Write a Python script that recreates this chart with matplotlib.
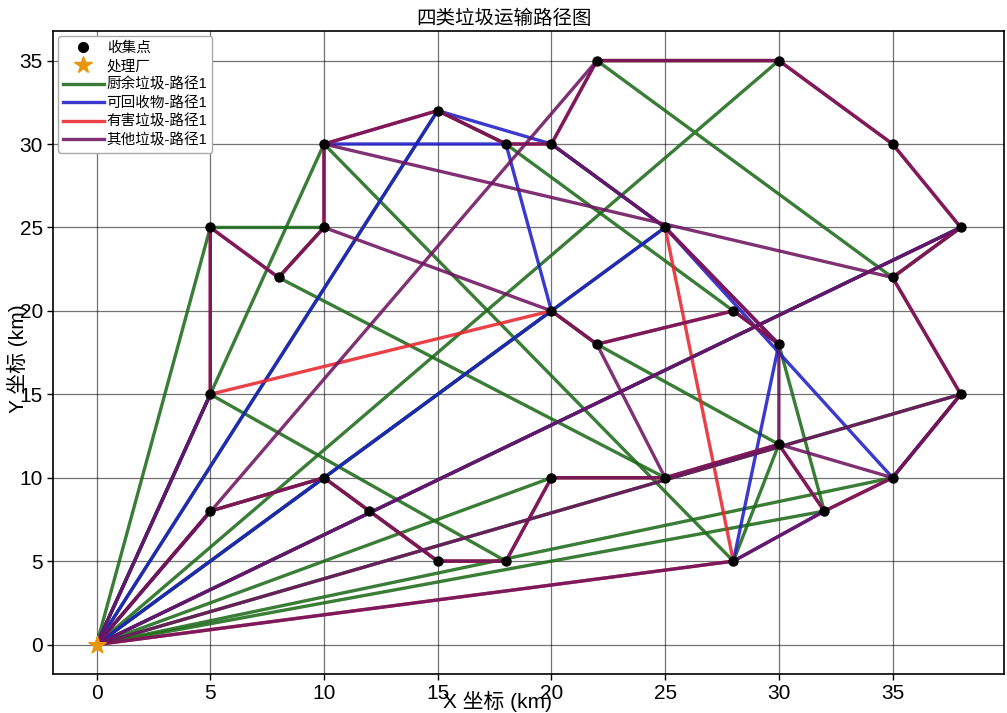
import numpy as np
import matplotlib
matplotlib.use('Agg')
import matplotlib.pyplot as plt
from matplotlib.lines import Line2D

plt.rcParams['font.family'] = ['Liberation Sans', 'Noto Sans CJK SC']
plt.rcParams['axes.unicode_minus'] = False

# point 0 is the depot, 1..30 are collection points (km)
point_x = [0, 5, 10, 12, 15, 18, 20, 25, 30, 32, 35, 38, 35, 38, 35, 30,
           22, 20, 18, 15, 10, 10, 8, 5, 5, 20, 22, 28, 30, 25, 28]
point_y = [0, 8, 10, 8, 5, 5, 10, 10, 12, 8, 10, 15, 22, 25, 30, 35,
           35, 30, 30, 32, 30, 25, 22, 25, 15, 20, 18, 20, 18, 25, 5]

# legs of each route, as point indices
kitchen_route = [
    [0, 23, 21, 22, 7, 6, 0],
    [0, 24, 20, 30, 8, 26, 25, 0],
    [0, 19, 18, 27, 28, 9, 0],
    [0, 15, 16, 12, 13, 0],
    [0, 24, 5, 4, 3, 2, 1, 0],
    [0, 10, 11, 0],
    [0, 29, 17],
]
recycle_route = [
    [0, 19, 17, 29, 28, 30, 9],
    [0, 2, 25, 18, 20],
    [25, 29, 10],
    [0, 13],
    [0, 24],
]
hazard_route = [
    [0, 1, 2, 3, 4, 5, 6, 7, 8, 9, 10, 11, 12, 13, 14, 15, 16, 17, 18, 19, 20,
     21, 22, 23, 24, 25, 26, 27, 28, 29, 30, 0],
]
other_route = [
    [0, 1, 2, 3, 4, 5, 6, 7, 8, 9, 10, 11, 12, 13, 14, 15, 16, 17, 18, 19, 20,
     21, 22, 23, 24, 0],
    [0, 11, 10, 8, 28, 27, 26, 7],
    [0, 16],
    [20, 12],
    [28, 29, 17],
    [21, 25, 26],
    [13, 0],
    [9, 30, 0],
]

route_names = ['厨余垃圾-路径1', '可回收物-路径1', '有害垃圾-路径1', '其他垃圾-路径1']
route_colors = ['#1e6b1a', '#1f1fc8', '#e8262e', '#6e1460']


def draw_route(ax, legs, color):
    for leg in legs:
        xs = [point_x[i] for i in leg]
        ys = [point_y[i] for i in leg]
        ax.plot(xs, ys, color=color, lw=2.4, alpha=0.88, solid_capstyle='round', zorder=2)


fig = plt.figure(figsize=(10.07, 7.13), dpi=100)
ax = fig.add_axes([0.053, 0.055, 0.944, 0.901])

for legs, color in zip([kitchen_route, recycle_route, hazard_route, other_route], route_colors):
    draw_route(ax, legs, color)

ax.scatter(point_x[1:], point_y[1:], s=42, color='black', zorder=4)
ax.scatter(point_x[:1], point_y[:1], s=170, marker='*', color='#e8960c', zorder=5)

ax.set_xlim(-1.9, 39.9)
ax.set_ylim(-1.75, 36.75)
ax.set_xticks([0, 5, 10, 15, 20, 25, 30, 35])
ax.set_yticks([0, 5, 10, 15, 20, 25, 30, 35])
ax.tick_params(labelsize=15, length=4, width=1, colors='black')
ax.grid(True, color='black', lw=0.9, alpha=0.55, zorder=0)
ax.set_axisbelow(True)
for sp in ax.spines.values():
    sp.set_color('black')
    sp.set_linewidth(1.2)

ax.set_title('四类垃圾运输路径图', fontsize=14, pad=5, x=0.474)
ax.set_xlabel('X 坐标 (km)', fontsize=15)
ax.set_ylabel('Y 坐标 (km)', fontsize=15)
ax.xaxis.set_label_coords(0.467, -0.026)
ax.yaxis.set_label_coords(-0.027, 0.49)

handles = [
    Line2D([], [], ls='none', marker='o', color='black', markersize=7, label='收集点'),
    Line2D([], [], ls='none', marker='*', color='#e8960c', markersize=13, label='处理厂'),
]
for name, color in zip(route_names, route_colors):
    handles.append(Line2D([], [], color=color, lw=2.4, alpha=0.88, label=name))
ax.legend(handles=handles, loc='upper left', fontsize=10.5, handlelength=2.8,
          handletextpad=0.2, labelspacing=0.3, borderpad=0.35, borderaxespad=0.3,
          framealpha=1, edgecolor='#aaaaaa')

fig.savefig('out.png', dpi=100)
